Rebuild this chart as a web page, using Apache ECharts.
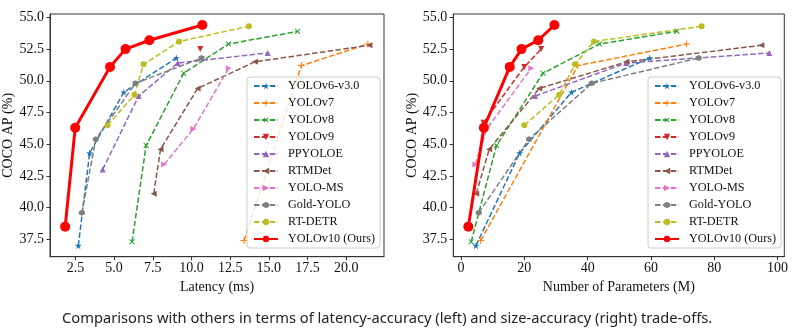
<!DOCTYPE html>
<html>
<head>
<meta charset="utf-8">
<script src="https://cdn.jsdelivr.net/npm/echarts@6/dist/echarts.min.js"></script>
<style>
  html, body { margin: 0; padding: 0; background: #fff; }
  #chart { width: 798px; height: 332px; }
</style>
</head>
<body>
<div id="chart"></div>
<script>
// Model names, in legend order
const modelNames = ['YOLOv6-v3.0', 'YOLOv7', 'YOLOv8', 'YOLOv9', 'PPYOLOE', 'RTMDet', 'YOLO-MS', 'Gold-YOLO', 'RT-DETR', 'YOLOv10 (Ours)'];

// COCO AP (%) per model size
const apV6 = [37.0, 44.3, 49.1, 51.8];
const apV7 = [37.4, 51.2, 52.9];
const apV8 = [37.3, 44.9, 50.6, 52.9, 53.9];
const apV9 = [46.7, 51.1, 52.5];
const apV9Latency = [52.5];
const apPPYOLOE = [43.0, 48.8, 51.4, 52.2];
const apPPYOLOEParams = [48.8, 51.4, 52.2];
const apRTMDet = [41.1, 44.6, 49.4, 51.5, 52.8];
const apYOLOMS = [43.4, 46.2, 51.0];
const apGold = [39.6, 45.4, 49.8, 51.8];
const apRTDETR = [46.5, 48.9, 51.3, 53.1, 54.3];
const apV10 = [38.5, 46.3, 51.1, 52.5, 53.2, 54.4];

// Latency (ms)
const latV6 = [2.69, 3.42, 5.63, 9.02];
const latV7 = [13.4, 17.1, 21.4];
const latV8 = [6.16, 7.07, 9.50, 12.39, 16.86];
const latV9 = [10.57];
const latPPYOLOE = [4.26, 6.59, 9.11, 14.93];
const latRTMDet = [7.56, 8.0, 10.4, 14.1, 21.5];
const latYOLOMS = [8.23, 10.12, 12.41];
const latGold = [2.92, 3.82, 6.38, 10.65];
const latRTDETR = [4.58, 6.32, 6.90, 9.20, 13.71];
const latV10 = [1.84, 2.49, 4.74, 5.74, 7.28, 10.70];

// Number of parameters (M)
const parV6 = [4.7, 18.5, 34.9, 59.6];
const parV7 = [6.2, 36.9, 71.3];
const parV8 = [3.2, 11.2, 25.9, 43.7, 68.2];
const parV9 = [7.1, 20.0, 25.3];
const parPPYOLOE = [23.4, 52.2, 97.4];
const parRTMDet = [4.8, 8.9, 24.7, 52.3, 94.9];
const parYOLOMS = [4.5, 8.1, 22.2];
const parGold = [5.6, 21.5, 41.3, 75.1];
const parRTDETR = [20, 31, 36, 42, 76];
const parV10 = [2.3, 7.2, 15.4, 19.1, 24.4, 29.5];

// Tick labels
const latencyTicks = [2.5, 5.0, 7.5, 10.0, 12.5, 15.0, 17.5, 20.0];
const paramTicks = [0, 20, 40, 60, 80, 100];
const apTicks = [37.5, 40.0, 42.5, 45.0, 47.5, 50.0, 52.5, 55.0];

const captionText = 'Comparisons with others in terms of latency-accuracy (left) and size-accuracy (right) trade-offs.';

// Marker shapes
const STAR = 'path://M0,-1L0.2245,-0.309L0.951,-0.309L0.363,0.118L0.588,0.809L0,0.382L-0.588,0.809L-0.363,0.118L-0.951,-0.309L-0.2245,-0.309Z';
const PLUS = 'path://M-0.14,-1L0.14,-1L0.14,-0.14L1,-0.14L1,0.14L0.14,0.14L0.14,1L-0.14,1L-0.14,0.14L-1,0.14L-1,-0.14L-0.14,-0.14Z';
const HEX = 'path://M0,-1L0.866,-0.5L0.866,0.5L0,1L-0.866,0.5L-0.866,-0.5Z';

const styles = [
  { color: '#1f77b4', symbol: STAR, rot: 0, size: 7 },
  { color: '#ff7f0e', symbol: PLUS, rot: 0, size: 7 },
  { color: '#2ca02c', symbol: PLUS, rot: 45, size: 7 },
  { color: '#d62728', symbol: 'triangle', rot: 180, size: 6 },
  { color: '#9467bd', symbol: 'triangle', rot: 0, size: 6 },
  { color: '#8c564b', symbol: 'triangle', rot: 90, size: 6 },
  { color: '#e377c2', symbol: 'triangle', rot: -90, size: 6 },
  { color: '#7f7f7f', symbol: HEX, rot: 0, size: 6 },
  { color: '#bcbd22', symbol: 'circle', rot: 0, size: 6 },
  { color: '#ff0000', symbol: 'circle', rot: 0, size: 10 }
];

const latencySets = [
  [latV6, apV6], [latV7, apV7], [latV8, apV8], [latV9, apV9Latency], [latPPYOLOE, apPPYOLOE],
  [latRTMDet, apRTMDet], [latYOLOMS, apYOLOMS], [latGold, apGold], [latRTDETR, apRTDETR], [latV10, apV10]
];
const paramSets = [
  [parV6, apV6], [parV7, apV7], [parV8, apV8], [parV9, apV9], [parPPYOLOE, apPPYOLOEParams],
  [parRTMDet, apRTMDet], [parYOLOMS, apYOLOMS], [parGold, apGold], [parRTDETR, apRTDETR], [parV10, apV10]
];

const zip = (xs, ys) => xs.map((x, i) => [x, ys[i]]);
const SERIF = 'Liberation Serif';

function makeSeries(sets, axisIndex) {
  return sets.map((pair, i) => {
    const s = styles[i];
    const ours = i === sets.length - 1;
    return {
      name: modelNames[i],
      type: 'line',
      xAxisIndex: axisIndex,
      yAxisIndex: axisIndex,
      data: zip(pair[0], pair[1]),
      symbol: s.symbol,
      symbolRotate: s.rot,
      symbolSize: s.size,
      showAllSymbol: true,
      animation: false,
      color: s.color,
      itemStyle: { color: s.color, borderWidth: 0 },
      lineStyle: ours
        ? { color: s.color, width: 3, type: 'solid' }
        : { color: s.color, width: 1.5, type: [5.5, 2.4] },
      emphasis: { disabled: true },
      z: ours ? 5 : 3
    };
  });
}

function makeXAxis(idx, min, max, ticks, name) {
  return {
    type: 'value', gridIndex: idx, min: min, max: max,
    name: name, nameLocation: 'middle', nameGap: 21,
    nameTextStyle: { fontFamily: SERIF, fontSize: 14, color: '#111' },
    axisLine: { show: true, onZero: false, lineStyle: { color: '#333', width: 1 } },
    axisTick: { show: true, inside: false, length: 3.5, customValues: ticks, lineStyle: { color: '#333' } },
    axisLabel: { customValues: ticks, margin: 5, fontFamily: SERIF, fontSize: 14, color: '#111',
      formatter: v => (idx === 0 ? v.toFixed(1) : String(v)) },
    splitLine: { show: false }
  };
}

function makeYAxis(idx) {
  return {
    type: 'value', gridIndex: idx, min: 36.13, max: 55.27,
    name: 'COCO AP (%)', nameLocation: 'middle', nameGap: 31, nameRotate: 90,
    nameTextStyle: { fontFamily: SERIF, fontSize: 14, color: '#111' },
    axisLine: { show: true, onZero: false, lineStyle: { color: '#333', width: 1 } },
    axisTick: { show: true, inside: false, length: 3.5, customValues: apTicks, lineStyle: { color: '#333' } },
    axisLabel: { customValues: apTicks, margin: 6, fontFamily: SERIF, fontSize: 14, color: '#111',
      formatter: v => v.toFixed(1) },
    splitLine: { show: false }
  };
}

function makeLegend(left) {
  return {
    orient: 'vertical', left: left, top: 77,
    data: modelNames,
    itemWidth: 24, itemHeight: 8, itemGap: 5,
    padding: [3, 5, 3, 6],
    backgroundColor: 'rgba(255,255,255,0.8)',
    borderColor: '#cccccc', borderWidth: 1, borderRadius: 3,
    selectedMode: false,
    textStyle: { fontFamily: SERIF, fontSize: 12.2, color: '#111', padding: [0, 0, 0, 5] },
    z: 10
  };
}

const chart = echarts.init(document.getElementById('chart'), null, { renderer: 'canvas' });
chart.setOption({
  backgroundColor: '#ffffff',
  animation: false,
  grid: [
    { left: 50, top: 14, width: 334, height: 242.7, show: true, borderColor: '#333', borderWidth: 1, backgroundColor: 'transparent' },
    { left: 453.3, top: 14, width: 331, height: 242.7, show: true, borderColor: '#333', borderWidth: 1, backgroundColor: 'transparent' }
  ],
  xAxis: [
    makeXAxis(0, 0.86, 22.44, latencyTicks, 'Latency (ms)'),
    makeXAxis(1, -2.45, 102.15, paramTicks, 'Number of Parameters (M)')
  ],
  yAxis: [makeYAxis(0), makeYAxis(1)],
  legend: [makeLegend(247), makeLegend(648)],
  series: makeSeries(latencySets, 0).concat(makeSeries(paramSets, 1)),
  graphic: [{
    type: 'text', left: 62, top: 311,
    style: { text: captionText, font: '14.7px "Noto Sans"', fill: '#222' }
  }]
});
</script>
</body>
</html>
